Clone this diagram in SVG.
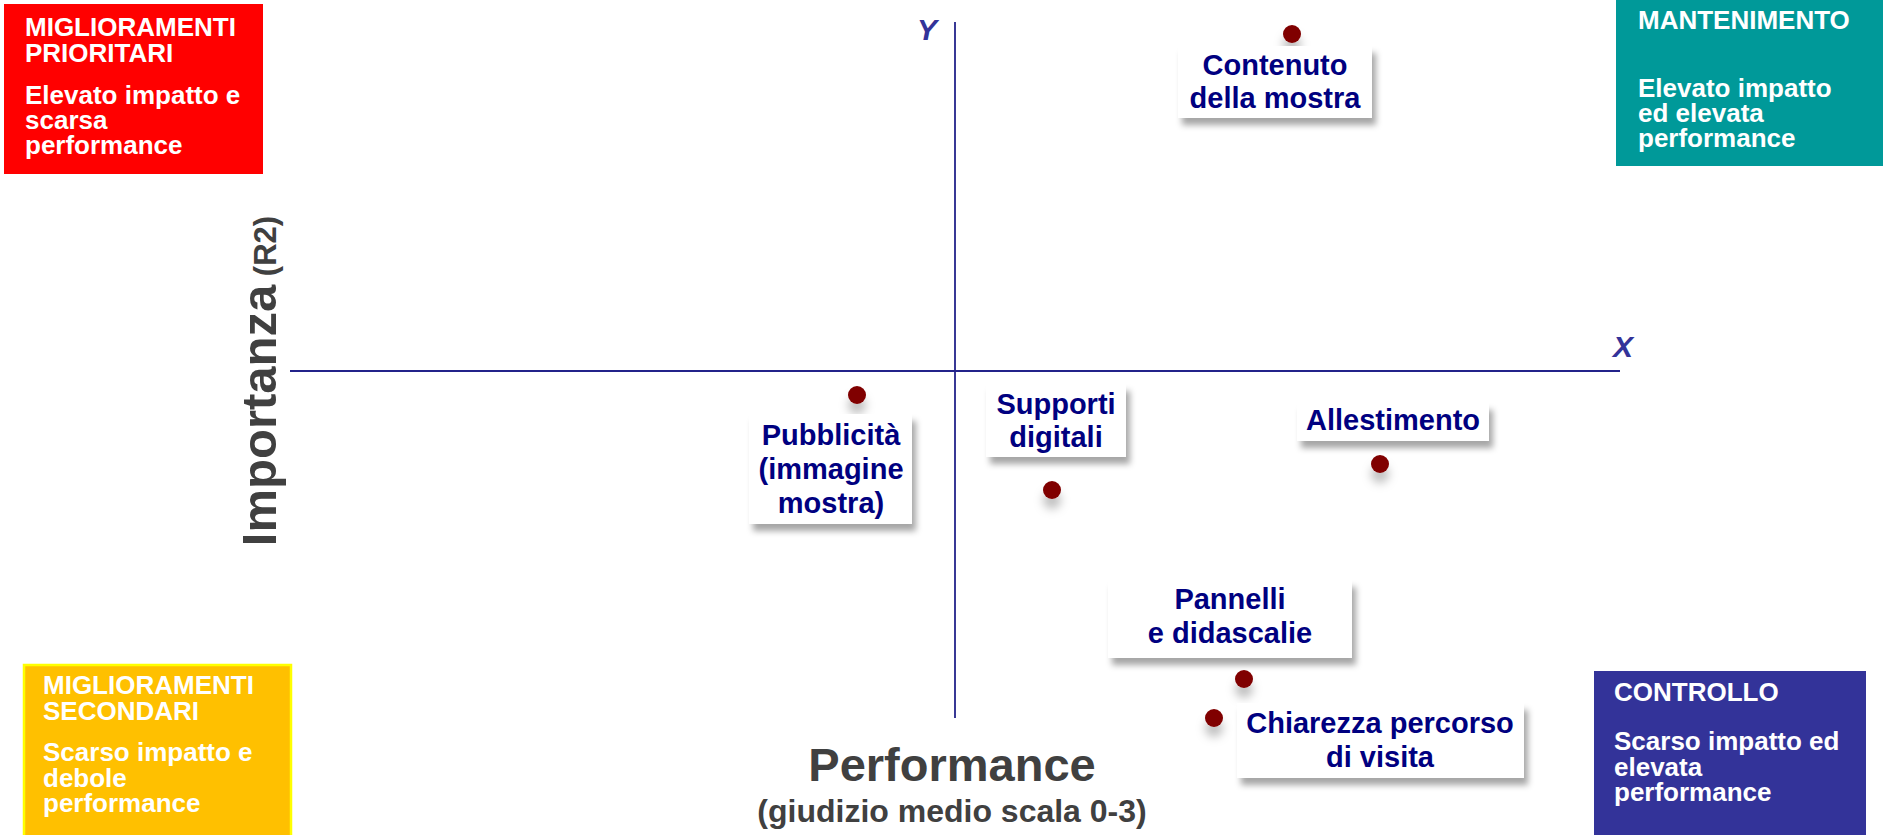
<svg xmlns="http://www.w3.org/2000/svg" width="1883" height="835" viewBox="0 0 1883 835">
<defs>
<filter id="boxShadow" x="-10%" y="-20%" width="130%" height="160%">
<feDropShadow dx="4" dy="7" stdDeviation="3" flood-color="#000" flood-opacity="0.35"/>
</filter>
<filter id="dotShadow" x="-150%" y="-150%" width="400%" height="450%">
<feDropShadow dx="0" dy="10" stdDeviation="5" flood-color="#000" flood-opacity="0.25"/>
</filter>
</defs>
<style>
text{font-family:"Liberation Sans",Arial,Helvetica,sans-serif;font-weight:bold}
.qt{fill:#ffffff;font-size:26px}
.lbl{fill:#000080;font-size:29px;text-anchor:middle}
.lbox{fill:#ffffff;filter:url(#boxShadow)}
.dot{fill:#800000;filter:url(#dotShadow)}
.axis{stroke:#23238a;stroke-width:1.8;fill:none}
.axl{fill:#333399;font-size:30px;font-style:italic}
.title{fill:#404040}
</style>
<rect width="1883" height="835" fill="#ffffff"/>

<g id="axes">
<line class="axis" x1="955" y1="22" x2="955" y2="718"/>
<line class="axis" x1="290" y1="371" x2="1620" y2="371"/>
<text class="axl" x="917" y="40">Y</text>
<text class="axl" x="1613" y="357">X</text>
</g>

<g id="q-miglioramenti-prioritari">
<rect x="4" y="4" width="259" height="170" fill="#ff0000"/>
<text class="qt" x="25" y="36">MIGLIORAMENTI</text>
<text class="qt" x="25" y="62">PRIORITARI</text>
<text class="qt" x="25" y="104">Elevato impatto e</text>
<text class="qt" x="25" y="129">scarsa</text>
<text class="qt" x="25" y="154">performance</text>
</g>

<g id="q-mantenimento">
<rect x="1616" y="0" width="267" height="166" fill="#009999"/>
<text class="qt" x="1638" y="29">MANTENIMENTO</text>
<text class="qt" x="1638" y="97">Elevato impatto</text>
<text class="qt" x="1638" y="122">ed elevata</text>
<text class="qt" x="1638" y="147">performance</text>
</g>

<g id="q-miglioramenti-secondari">
<rect x="24" y="665" width="267" height="172" fill="#ffc000" stroke="#ffff00" stroke-width="2.5"/>
<text class="qt" x="43" y="694">MIGLIORAMENTI</text>
<text class="qt" x="43" y="720">SECONDARI</text>
<text class="qt" x="43" y="761">Scarso impatto e</text>
<text class="qt" x="43" y="787">debole</text>
<text class="qt" x="43" y="812">performance</text>
</g>

<g id="q-controllo">
<rect x="1594" y="671" width="272" height="164" fill="#333399"/>
<text class="qt" x="1614" y="701">CONTROLLO</text>
<text class="qt" x="1614" y="750">Scarso impatto ed</text>
<text class="qt" x="1614" y="776">elevata</text>
<text class="qt" x="1614" y="801">performance</text>
</g>

<g id="axis-title-y">
<text class="title" transform="translate(276,381) rotate(-90)" text-anchor="middle"><tspan font-size="49">Importanza</tspan><tspan font-size="31"> (R2)</tspan></text>
</g>

<g id="axis-title-x">
<text class="title" x="952" y="781" font-size="47" text-anchor="middle">Performance</text>
<text class="title" x="952" y="822" font-size="32" text-anchor="middle">(giudizio medio scala 0-3)</text>
</g>

<g id="n-contenuto">
<circle class="dot" cx="1292" cy="34" r="9"/>
<rect class="lbox" x="1178" y="46" width="194" height="72"/>
<text class="lbl" x="1275" y="75">Contenuto</text>
<text class="lbl" x="1275" y="108">della mostra</text>
</g>

<g id="n-pubblicita">
<circle class="dot" cx="857" cy="395" r="9"/>
<rect class="lbox" x="749" y="414" width="163" height="110"/>
<text class="lbl" x="831" y="445">Pubblicità</text>
<text class="lbl" x="831" y="479">(immagine</text>
<text class="lbl" x="831" y="513">mostra)</text>
</g>

<g id="n-supporti">
<rect class="lbox" x="986" y="384" width="140" height="73"/>
<text class="lbl" x="1056" y="414">Supporti</text>
<text class="lbl" x="1056" y="447">digitali</text>
<circle class="dot" cx="1052" cy="490" r="9"/>
</g>

<g id="n-allestimento">
<rect class="lbox" x="1297" y="403" width="192" height="38"/>
<text class="lbl" x="1393" y="430">Allestimento</text>
<circle class="dot" cx="1380" cy="464" r="9"/>
</g>

<g id="n-pannelli">
<rect class="lbox" x="1108" y="580" width="244" height="78"/>
<text class="lbl" x="1230" y="609">Pannelli</text>
<text class="lbl" x="1230" y="643">e didascalie</text>
<circle class="dot" cx="1244" cy="679" r="9"/>
</g>

<g id="n-chiarezza">
<circle class="dot" cx="1214" cy="718" r="9"/>
<rect class="lbox" x="1237" y="703" width="287" height="75"/>
<text class="lbl" x="1380" y="733">Chiarezza percorso</text>
<text class="lbl" x="1380" y="767">di visita</text>
</g>
</svg>
